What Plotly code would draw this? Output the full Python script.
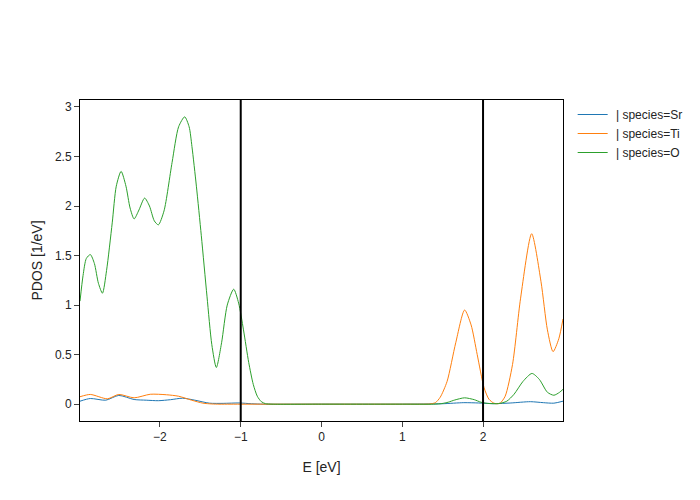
import plotly.graph_objects as go

# Energy grid points (eV) and PDOS values (1/eV)
E_Sr = [-2.99, -2.862, -2.671, -2.51, -2.32, -2.17, -2.02, -1.87, -1.72, -1.568, -1.388, -1.218, -1.016,
        -0.866, -0.715, 0.0, 1.0, 1.49, 1.762, 1.943, 2.134, 2.345, 2.586, 2.747, 2.877, 2.99]
v_Sr = [0.03, 0.057, 0.04, 0.088, 0.047, 0.04, 0.035, 0.045, 0.06, 0.04, 0.01, 0.008, 0.012,
        0.004, 0.0, 0.0, 0.0, 0.004, 0.015, 0.012, 0.005, 0.012, 0.025, 0.015, 0.01, 0.03]

E_Ti = [-2.99, -2.862, -2.651, -2.51, -2.32, -2.12, -1.92, -1.769, -1.608, -1.468, -1.358, -1.27, -1.12,
        0.0, 1.0, 1.24, 1.34, 1.41, 1.47, 1.555, 1.662, 1.772, 1.852, 1.928, 2.013, 2.073, 2.134,
        2.174, 2.214, 2.274, 2.365, 2.465, 2.602, 2.717, 2.797, 2.867, 2.938, 2.99]
v_Ti = [0.075, 0.098, 0.054, 0.098, 0.064, 0.10, 0.095, 0.08, 0.04, 0.01, 0.002, 0.0, 0.0,
        0.0, 0.0, 0.0, 0.002, 0.015, 0.07, 0.23, 0.62, 0.95, 0.80, 0.50, 0.165, 0.05, 0.01,
        0.004, 0.012, 0.08, 0.40, 1.07, 1.72, 1.24, 0.75, 0.53, 0.66, 0.86]

E_O = [-2.99, -2.952, -2.912, -2.862, -2.812, -2.762, -2.712, -2.661, -2.591, -2.541, -2.481, -2.421,
       -2.37, -2.32, -2.26, -2.19, -2.13, -2.07, -2.02, -1.95, -1.85, -1.769, -1.694, -1.639, -1.604,
       -1.549, -1.488, -1.418, -1.358, -1.302, -1.237, -1.167, -1.087, -1.026, -0.966, -0.901, -0.845,
       -0.795, -0.745, -0.694, -0.614, 0.0, 1.0, 1.39, 1.49, 1.57, 1.65, 1.772, 1.892, 1.973, 2.053,
       2.194, 2.294, 2.384, 2.495, 2.606, 2.697, 2.797, 2.877, 2.948, 2.99]
v_O = [1.04, 1.30, 1.47, 1.51, 1.42, 1.22, 1.12, 1.35, 1.83, 2.20, 2.35, 2.20,
       1.98, 1.87, 1.96, 2.08, 2.00, 1.85, 1.81, 1.95, 2.44, 2.80, 2.90, 2.80, 2.60,
       2.20, 1.70, 1.09, 0.60, 0.37, 0.62, 1.00, 1.16, 1.02, 0.75, 0.42, 0.20,
       0.08, 0.025, 0.005, 0.0, 0.0, 0.0, 0.0, 0.006, 0.02, 0.042, 0.064, 0.045, 0.02, 0.008,
       0.006, 0.03, 0.10, 0.23, 0.31, 0.25, 0.12, 0.09, 0.12, 0.15]

names = [" | species=Sr", " | species=Ti", " | species=O"]
colors = ["#1f77b4", "#ff7f0e", "#2ca02c"]
vlines = [-1, 2]

fig = go.Figure()
for (x, y), name, c in zip([(E_Sr, v_Sr), (E_Ti, v_Ti), (E_O, v_O)], names, colors):
    fig.add_trace(go.Scatter(x=x, y=y, mode="lines", name=name,
                             line=dict(color=c, width=1, shape="spline", smoothing=0.7)))
for xv in vlines:
    fig.add_vline(x=xv, line=dict(color="black", width=2), opacity=1)

fig.update_layout(
    template="simple_white",
    width=692, height=492,
    margin=dict(l=72, t=92, b=79),
    font=dict(family="Arial", size=12, color="rgb(36,36,36)"),
    xaxis=dict(title=dict(text="E [eV]", font=dict(size=14), standoff=18), range=[-2.99, 2.99], mirror=True,
               showline=True, linecolor="black", ticks="outside", zeroline=False, showgrid=False),
    yaxis=dict(title=dict(text="PDOS [1/eV]", font=dict(size=14), standoff=9), range=[-0.17, 3.07], mirror=True,
               showline=True, linecolor="black", ticks="outside", zeroline=False, showgrid=False),
    showlegend=True,
)
fig.write_html("out.html")
